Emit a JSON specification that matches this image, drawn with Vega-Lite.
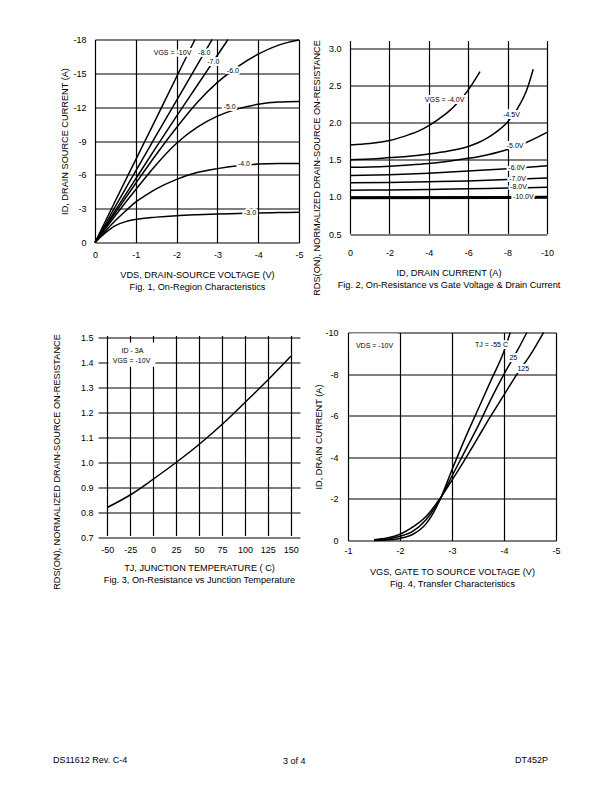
{
  "$schema": "https://vega.github.io/schema/vega-lite/v6.json",
  "autosize": {"type": "pad"},
  "padding": {"left": 52, "top": 35.5, "right": 0, "bottom": 0},
  "background": "white",
  "config": {
    "font": "Liberation Sans",
    "view": {"stroke": null},
    "axis": {"grid": true, "gridColor": "black", "gridWidth": 1.2, "gridOpacity": 1, "domain": false, "ticks": false, "tickCount": 50, "labelFontSize": 9, "labelColor": "black", "titleFontSize": 9.2, "titleFontWeight": "normal", "titleColor": "black", "labelFlush": false, "labelOverlap": false, "labelBound": false, "titleLineHeight": 12},
    "title": {"fontSize": 9, "fontWeight": "normal", "color": "black", "orient": "bottom", "frame": "group"},
    "line": {"color": "black", "strokeWidth": 1.5, "interpolate": "monotone"},
    "text": {"fontSize": 7, "fill": "black"}
  },
  "datasets": {
    "p1": [
      {"vgs": -3, "vds": 0, "id": 0}, {"vgs": -3, "vds": -0.25, "id": -0.85}, {"vgs": -3, "vds": -0.5, "id": -1.5}, {"vgs": -3, "vds": -0.75, "id": -1.85}, {"vgs": -3, "vds": -1, "id": -2.05}, {"vgs": -3, "vds": -1.5, "id": -2.25}, {"vgs": -3, "vds": -2, "id": -2.38}, {"vgs": -3, "vds": -2.5, "id": -2.46}, {"vgs": -3, "vds": -3, "id": -2.52}, {"vgs": -3, "vds": -3.5, "id": -2.57}, {"vgs": -3, "vds": -4, "id": -2.62}, {"vgs": -3, "vds": -4.5, "id": -2.65}, {"vgs": -3, "vds": -5, "id": -2.68},
      {"vgs": -4, "vds": 0, "id": 0}, {"vgs": -4, "vds": -0.25, "id": -1.0}, {"vgs": -4, "vds": -0.5, "id": -1.95}, {"vgs": -4, "vds": -0.75, "id": -2.8}, {"vgs": -4, "vds": -1, "id": -3.6}, {"vgs": -4, "vds": -1.25, "id": -4.2}, {"vgs": -4, "vds": -1.5, "id": -4.75}, {"vgs": -4, "vds": -2, "id": -5.6}, {"vgs": -4, "vds": -2.5, "id": -6.2}, {"vgs": -4, "vds": -3, "id": -6.55}, {"vgs": -4, "vds": -3.5, "id": -6.8}, {"vgs": -4, "vds": -4, "id": -6.95}, {"vgs": -4, "vds": -4.5, "id": -7.0}, {"vgs": -4, "vds": -5, "id": -7.0},
      {"vgs": -5, "vds": 0, "id": 0}, {"vgs": -5, "vds": -0.5, "id": -2.4}, {"vgs": -5, "vds": -1, "id": -4.7}, {"vgs": -5, "vds": -1.5, "id": -6.9}, {"vgs": -5, "vds": -2, "id": -8.8}, {"vgs": -5, "vds": -2.5, "id": -10.2}, {"vgs": -5, "vds": -3, "id": -11.2}, {"vgs": -5, "vds": -3.5, "id": -11.85}, {"vgs": -5, "vds": -4, "id": -12.25}, {"vgs": -5, "vds": -4.5, "id": -12.45}, {"vgs": -5, "vds": -5, "id": -12.5},
      {"vgs": -6, "vds": 0, "id": 0}, {"vgs": -6, "vds": -0.5, "id": -2.65}, {"vgs": -6, "vds": -1, "id": -5.25}, {"vgs": -6, "vds": -1.5, "id": -7.8}, {"vgs": -6, "vds": -2, "id": -10.2}, {"vgs": -6, "vds": -2.5, "id": -12.4}, {"vgs": -6, "vds": -3, "id": -14.2}, {"vgs": -6, "vds": -3.5, "id": -15.6}, {"vgs": -6, "vds": -4, "id": -16.7}, {"vgs": -6, "vds": -4.5, "id": -17.5}, {"vgs": -6, "vds": -5, "id": -17.95},
      {"vgs": -7, "vds": 0, "id": 0}, {"vgs": -7, "vds": -0.5, "id": -2.85}, {"vgs": -7, "vds": -1, "id": -5.65}, {"vgs": -7, "vds": -1.5, "id": -8.45}, {"vgs": -7, "vds": -2, "id": -11.2}, {"vgs": -7, "vds": -2.5, "id": -13.9}, {"vgs": -7, "vds": -3, "id": -16.6}, {"vgs": -7, "vds": -3.26, "id": -18},
      {"vgs": -8, "vds": 0, "id": 0}, {"vgs": -8, "vds": -0.5, "id": -3.2}, {"vgs": -8, "vds": -1, "id": -6.35}, {"vgs": -8, "vds": -1.5, "id": -9.5}, {"vgs": -8, "vds": -2, "id": -12.6}, {"vgs": -8, "vds": -2.5, "id": -15.7}, {"vgs": -8, "vds": -2.87, "id": -18},
      {"vgs": -10, "vds": 0, "id": 0}, {"vgs": -10, "vds": -0.5, "id": -3.7}, {"vgs": -10, "vds": -1, "id": -7.35}, {"vgs": -10, "vds": -1.5, "id": -11.0}, {"vgs": -10, "vds": -2, "id": -14.7}, {"vgs": -10, "vds": -2.45, "id": -18}
    ],
    "p1lab": [
      {"t": "VGS = -10V", "vds": -1.9, "id": -16.8},
      {"t": "-8.0", "vds": -2.68, "id": -16.8},
      {"t": "-7.0", "vds": -2.9, "id": -16.0},
      {"t": "-6.0", "vds": -3.38, "id": -15.2},
      {"t": "-5.0", "vds": -3.3, "id": -12.0},
      {"t": "-4.0", "vds": -3.65, "id": -7.0},
      {"t": "-3.0", "vds": -3.8, "id": -2.6}
    ],
    "p2": [
      {"vgs": -4.0, "id": 0, "r": 1.70}, {"vgs": -4.0, "id": -1, "r": 1.72}, {"vgs": -4.0, "id": -2, "r": 1.76}, {"vgs": -4.0, "id": -3, "r": 1.84}, {"vgs": -4.0, "id": -3.5, "r": 1.89}, {"vgs": -4.0, "id": -4, "r": 1.96}, {"vgs": -4.0, "id": -4.5, "r": 2.05}, {"vgs": -4.0, "id": -5, "r": 2.15}, {"vgs": -4.0, "id": -5.5, "r": 2.28}, {"vgs": -4.0, "id": -6, "r": 2.44}, {"vgs": -4.0, "id": -6.3, "r": 2.56}, {"vgs": -4.0, "id": -6.6, "r": 2.69},
      {"vgs": -4.5, "id": 0, "r": 1.50}, {"vgs": -4.5, "id": -1, "r": 1.51}, {"vgs": -4.5, "id": -2, "r": 1.53}, {"vgs": -4.5, "id": -3, "r": 1.55}, {"vgs": -4.5, "id": -4, "r": 1.58}, {"vgs": -4.5, "id": -5, "r": 1.62}, {"vgs": -4.5, "id": -6, "r": 1.68}, {"vgs": -4.5, "id": -6.5, "r": 1.73}, {"vgs": -4.5, "id": -7, "r": 1.80}, {"vgs": -4.5, "id": -7.5, "r": 1.89}, {"vgs": -4.5, "id": -8, "r": 2.01}, {"vgs": -4.5, "id": -8.5, "r": 2.19}, {"vgs": -4.5, "id": -9, "r": 2.46}, {"vgs": -4.5, "id": -9.3, "r": 2.72},
      {"vgs": -5.0, "id": 0, "r": 1.40}, {"vgs": -5.0, "id": -1, "r": 1.405}, {"vgs": -5.0, "id": -2, "r": 1.415}, {"vgs": -5.0, "id": -3, "r": 1.43}, {"vgs": -5.0, "id": -4, "r": 1.45}, {"vgs": -5.0, "id": -5, "r": 1.48}, {"vgs": -5.0, "id": -6, "r": 1.52}, {"vgs": -5.0, "id": -7, "r": 1.57}, {"vgs": -5.0, "id": -8, "r": 1.64}, {"vgs": -5.0, "id": -9, "r": 1.74}, {"vgs": -5.0, "id": -10, "r": 1.87},
      {"vgs": -6.0, "id": 0, "r": 1.29}, {"vgs": -6.0, "id": -2, "r": 1.30}, {"vgs": -6.0, "id": -4, "r": 1.32}, {"vgs": -6.0, "id": -6, "r": 1.35}, {"vgs": -6.0, "id": -8, "r": 1.38}, {"vgs": -6.0, "id": -10, "r": 1.42},
      {"vgs": -7.0, "id": 0, "r": 1.19}, {"vgs": -7.0, "id": -2, "r": 1.195}, {"vgs": -7.0, "id": -4, "r": 1.205}, {"vgs": -7.0, "id": -6, "r": 1.215}, {"vgs": -7.0, "id": -8, "r": 1.235}, {"vgs": -7.0, "id": -10, "r": 1.255},
      {"vgs": -8.0, "id": 0, "r": 1.09}, {"vgs": -8.0, "id": -2, "r": 1.095}, {"vgs": -8.0, "id": -4, "r": 1.10}, {"vgs": -8.0, "id": -6, "r": 1.11}, {"vgs": -8.0, "id": -8, "r": 1.12}, {"vgs": -8.0, "id": -10, "r": 1.13}
    ],
    "p2thick": [
      {"vgs": -10.0, "id": 0, "r": 0.99}, {"vgs": -10.0, "id": -10, "r": 0.995}
    ],
    "p2lab": [
      {"t": "VGS = -4.0V", "id": -4.8, "r": 2.31},
      {"t": "-4.5V", "id": -8.2, "r": 2.11},
      {"t": "-5.0V", "id": -8.38, "r": 1.69},
      {"t": "-6.0V", "id": -8.46, "r": 1.39},
      {"t": "-7.0V", "id": -8.5, "r": 1.236},
      {"t": "-8.0V", "id": -8.55, "r": 1.137},
      {"t": "-10.0V", "id": -8.8, "r": 0.993}
    ],
    "p3": [
      {"tj": -50, "r": 0.82}, {"tj": -25, "r": 0.87}, {"tj": 0, "r": 0.933}, {"tj": 25, "r": 1.0}, {"tj": 50, "r": 1.072}, {"tj": 75, "r": 1.152}, {"tj": 100, "r": 1.24}, {"tj": 125, "r": 1.33}, {"tj": 150, "r": 1.425}
    ],
    "p3box": [{"tj": -48.7, "tj2": 2.5, "r": 1.48, "r2": 1.383}],
    "p3lab": [
      {"t": "ID - 3A", "tj": -22.5, "r": 1.446},
      {"t": "VGS = -10V", "tj": -23.5, "r": 1.408}
    ],
    "p4": [
      {"tj": "-55", "vgs": -1.5, "id": 0.0}, {"tj": "-55", "vgs": -1.75, "id": -0.02}, {"tj": "-55", "vgs": -2, "id": -0.1}, {"tj": "-55", "vgs": -2.25, "id": -0.3}, {"tj": "-55", "vgs": -2.5, "id": -0.8}, {"tj": "-55", "vgs": -2.75, "id": -1.85}, {"tj": "-55", "vgs": -3, "id": -3.4}, {"tj": "-55", "vgs": -3.25, "id": -4.9}, {"tj": "-55", "vgs": -3.5, "id": -6.3}, {"tj": "-55", "vgs": -3.75, "id": -7.7}, {"tj": "-55", "vgs": -4, "id": -9.1}, {"tj": "-55", "vgs": -4.12, "id": -10},
      {"tj": "25", "vgs": -1.5, "id": -0.02}, {"tj": "25", "vgs": -1.75, "id": -0.06}, {"tj": "25", "vgs": -2, "id": -0.2}, {"tj": "25", "vgs": -2.25, "id": -0.45}, {"tj": "25", "vgs": -2.5, "id": -1.0}, {"tj": "25", "vgs": -2.75, "id": -1.9}, {"tj": "25", "vgs": -3, "id": -3.1}, {"tj": "25", "vgs": -3.25, "id": -4.3}, {"tj": "25", "vgs": -3.5, "id": -5.5}, {"tj": "25", "vgs": -3.75, "id": -6.8}, {"tj": "25", "vgs": -4, "id": -8.0}, {"tj": "25", "vgs": -4.25, "id": -9.1}, {"tj": "25", "vgs": -4.44, "id": -10},
      {"tj": "125", "vgs": -1.5, "id": -0.04}, {"tj": "125", "vgs": -1.75, "id": -0.12}, {"tj": "125", "vgs": -2, "id": -0.3}, {"tj": "125", "vgs": -2.25, "id": -0.65}, {"tj": "125", "vgs": -2.5, "id": -1.15}, {"tj": "125", "vgs": -2.75, "id": -1.95}, {"tj": "125", "vgs": -3, "id": -2.9}, {"tj": "125", "vgs": -3.25, "id": -3.9}, {"tj": "125", "vgs": -3.5, "id": -4.95}, {"tj": "125", "vgs": -3.75, "id": -6.0}, {"tj": "125", "vgs": -4, "id": -7.0}, {"tj": "125", "vgs": -4.25, "id": -8.0}, {"tj": "125", "vgs": -4.5, "id": -8.9}, {"tj": "125", "vgs": -4.76, "id": -10}
    ],
    "p4box": [{"vgs": -1.03, "vgs2": -1.96, "id": -9.95, "id2": -9.05}],
    "p4lab": [
      {"t": "VDS = -10V", "vgs": -1.51, "id": -9.35},
      {"t": "TJ = -55 C", "vgs": -3.76, "id": -9.38},
      {"t": "25", "vgs": -4.18, "id": -8.78},
      {"t": "125", "vgs": -4.37, "id": -8.25}
    ]
  },
  "concat": [
    {
      "width": 204, "height": 203,
      "layer": [
        {
          "data": {"name": "p1"},
          "mark": {"type": "line"},
          "encoding": {
            "x": {"field": "vds", "type": "quantitative", "scale": {"domain": [0, -5]}, "axis": {"values": [0, -1, -2, -3, -4, -5], "labelExpr": "'' + datum.value", "labelPadding": 7.5, "titlePadding": 11, "title": ["VDS, DRAIN-SOURCE VOLTAGE (V)", "Fig.  1,  On-Region Characteristics"]}},
            "y": {"field": "id", "type": "quantitative", "scale": {"domain": [0, -18]}, "axis": {"values": [0, -3, -6, -9, -12, -15, -18], "labelExpr": "'' + datum.value", "labelPadding": 9, "titlePadding": 3, "title": "ID, DRAIN SOURCE  CURRENT (A)"}},
            "detail": {"field": "vgs"},
            "order": {"field": "vds", "sort": "descending"}
          }
        },
        {
          "data": {"name": "p1lab"},
          "mark": {"type": "text", "stroke": "white", "strokeWidth": 4, "fill": "white"},
          "encoding": {"x": {"field": "vds", "type": "quantitative"}, "y": {"field": "id", "type": "quantitative"}, "text": {"field": "t"}}
        },
        {
          "data": {"name": "p1lab"},
          "mark": {"type": "text", "fill": "black"},
          "encoding": {"x": {"field": "vds", "type": "quantitative"}, "y": {"field": "id", "type": "quantitative"}, "text": {"field": "t"}}
        }
      ]
    },
    {
      "width": 197, "height": 203,
      "title": {"text": "3 of 4", "anchor": "start", "dx": -67, "offset": 462},
      "layer": [
        {
          "data": {"name": "p2"},
          "mark": {"type": "line"},
          "encoding": {
            "x": {"field": "id", "type": "quantitative", "scale": {"domain": [0, -10]}, "axis": {"values": [0, -2, -4, -6, -8, -10], "labelExpr": "'' + datum.value", "labelPadding": 5.5, "titlePadding": 11, "title": ["ID, DRAIN CURRENT (A)", "Fig. 2,  On-Resistance vs Gate Voltage & Drain Current"]}},
            "y": {"field": "r", "type": "quantitative", "scale": {"domain": [0.5, 3.0], "range": [202, 9]}, "axis": {"values": [0.5, 1.0, 1.5, 2.0, 2.5, 3.0], "labelExpr": "format(datum.value, '.1f')", "labelPadding": 9, "titlePadding": 7, "titleY": 128, "title": "RDS(ON), NORMALIZED DRAIN-SOURCE ON-RESISTANCE"}},
            "detail": {"field": "vgs"},
            "order": {"field": "id", "sort": "descending"}
          }
        },
        {
          "data": {"name": "p2thick"},
          "mark": {"type": "line", "strokeWidth": 3},
          "encoding": {
            "x": {"field": "id", "type": "quantitative"},
            "y": {"field": "r", "type": "quantitative"},
            "order": {"field": "id", "sort": "descending"}
          }
        },
        {
          "data": {"name": "p2lab"},
          "mark": {"type": "text", "stroke": "white", "strokeWidth": 4, "fill": "white"},
          "encoding": {"x": {"field": "id", "type": "quantitative"}, "y": {"field": "r", "type": "quantitative"}, "text": {"field": "t"}}
        },
        {
          "data": {"name": "p2lab"},
          "mark": {"type": "text", "fill": "black"},
          "encoding": {"x": {"field": "id", "type": "quantitative"}, "y": {"field": "r", "type": "quantitative"}, "text": {"field": "t"}}
        }
      ]
    },
    {
      "width": 204, "height": 208,
      "title": {"text": "DS11612 Rev. C-4", "anchor": "start", "dx": -42, "offset": 167},
      "layer": [
        {
          "data": {"name": "p3"},
          "mark": {"type": "line"},
          "encoding": {
            "x": {"field": "tj", "type": "quantitative", "scale": {"domain": [-50, 150], "range": [3, 205]}, "axis": {"values": [-50, -25, 0, 25, 50, 75, 100, 125, 150], "labelExpr": "'' + datum.value", "labelPadding": 4.5, "titlePadding": 9, "title": ["TJ, JUNCTION TEMPERATURE ( C)", "Fig. 3, On-Resistance vs Junction Temperature"]}},
            "y": {"field": "r", "type": "quantitative", "scale": {"domain": [0.7, 1.5], "range": [205, 5]}, "axis": {"values": [0.7, 0.8, 0.9, 1.0, 1.1, 1.2, 1.3, 1.4, 1.5], "labelExpr": "format(datum.value, '.1f')", "labelPadding": 2, "titlePadding": 19, "titleY": 129, "title": "RDS(ON), NORMALIZED DRAIN-SOURCE ON-RESISTANCE"}}
          }
        },
        {
          "data": {"name": "p3box"},
          "mark": {"type": "rect", "color": "white"},
          "encoding": {"x": {"field": "tj", "type": "quantitative"}, "x2": {"field": "tj2"}, "y": {"field": "r", "type": "quantitative"}, "y2": {"field": "r2"}}
        },
        {
          "data": {"name": "p3lab"},
          "mark": {"type": "text", "fill": "black"},
          "encoding": {"x": {"field": "tj", "type": "quantitative"}, "y": {"field": "r", "type": "quantitative"}, "text": {"field": "t"}}
        }
      ]
    },
    {
      "width": 206, "height": 208,
      "title": {"text": "DT452P", "anchor": "end", "dx": -8, "offset": 168},
      "layer": [
        {
          "data": {"name": "p4"},
          "mark": {"type": "line"},
          "encoding": {
            "x": {"field": "vgs", "type": "quantitative", "scale": {"domain": [-1, -5], "range": [-2, 206]}, "axis": {"values": [-1, -2, -3, -4, -5], "labelExpr": "'' + datum.value", "labelPadding": 5.5, "titlePadding": 12, "title": ["VGS, GATE TO SOURCE VOLTAGE (V)", "Fig. 4,  Transfer Characteristics"]}},
            "y": {"field": "id", "type": "quantitative", "scale": {"domain": [0, -10]}, "axis": {"values": [0, -2, -4, -6, -8, -10], "labelExpr": "'' + datum.value", "labelPadding": 12, "titlePadding": 1, "title": "ID, DRAIN CURRENT (A)"}},
            "detail": {"field": "tj"},
            "order": {"field": "vgs", "sort": "descending"}
          }
        },
        {
          "data": {"name": "p4box"},
          "mark": {"type": "rect", "color": "white"},
          "encoding": {"x": {"field": "vgs", "type": "quantitative"}, "x2": {"field": "vgs2"}, "y": {"field": "id", "type": "quantitative"}, "y2": {"field": "id2"}}
        },
        {
          "data": {"name": "p4lab"},
          "mark": {"type": "text", "stroke": "white", "strokeWidth": 4, "fill": "white"},
          "encoding": {"x": {"field": "vgs", "type": "quantitative"}, "y": {"field": "id", "type": "quantitative"}, "text": {"field": "t"}}
        },
        {
          "data": {"name": "p4lab"},
          "mark": {"type": "text", "fill": "black"},
          "encoding": {"x": {"field": "vgs", "type": "quantitative"}, "y": {"field": "id", "type": "quantitative"}, "text": {"field": "t"}}
        }
      ]
    }
  ],
  "columns": 2,
  "bounds": "flush",
  "spacing": {"row": 90, "column": 51}
}
